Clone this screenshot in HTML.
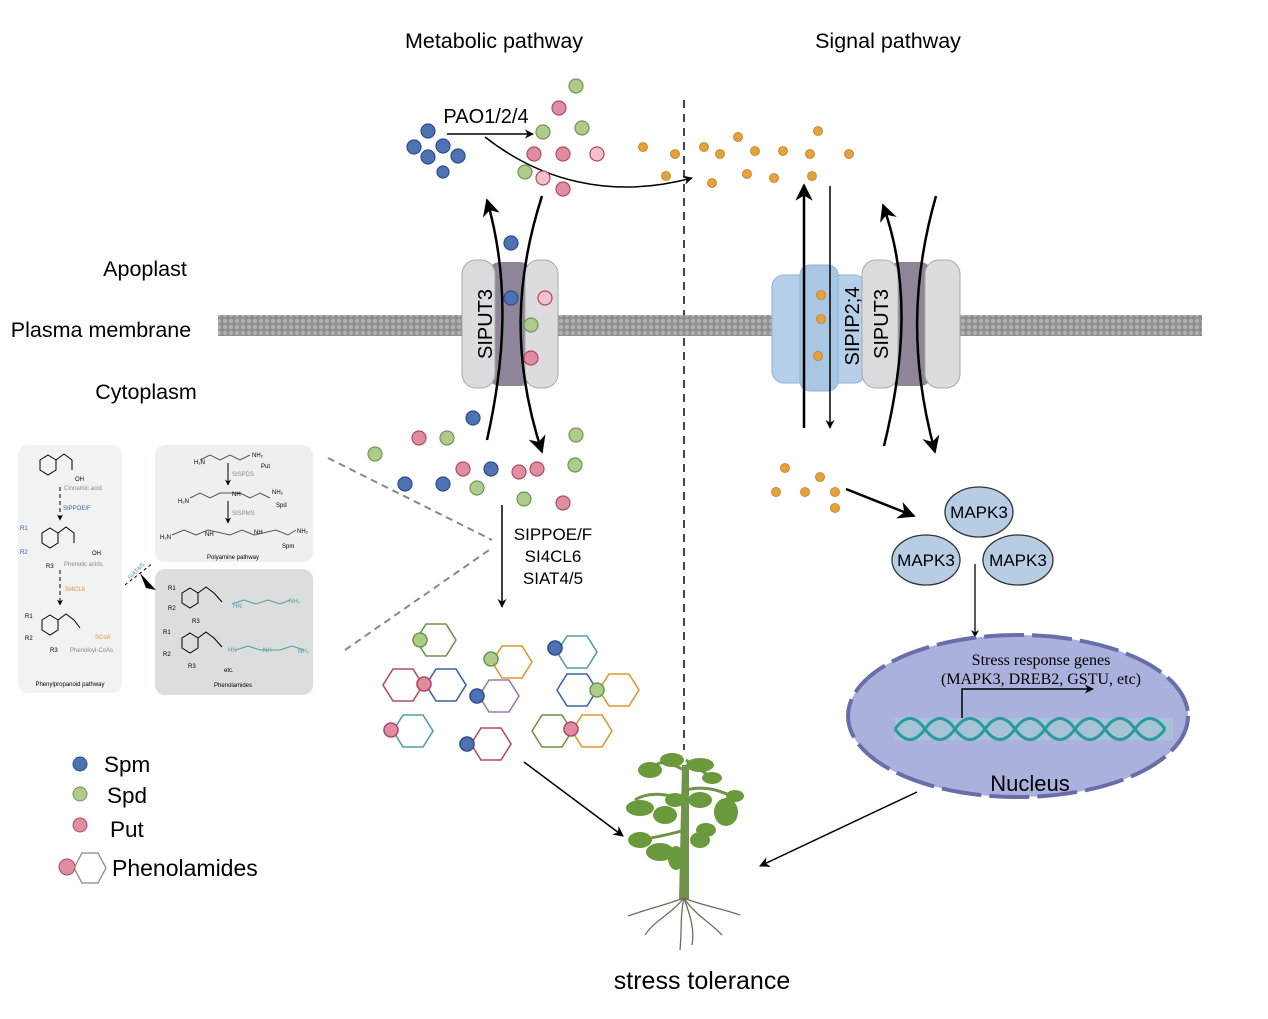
<!DOCTYPE html>
<html><head><meta charset="utf-8"><style>
html,body{margin:0;padding:0;background:#fff;}
svg{display:block;font-family:"Liberation Sans",sans-serif;}
</style></head><body>
<svg width="1268" height="1019" viewBox="0 0 1268 1019" xmlns="http://www.w3.org/2000/svg">
<defs>
<marker id="ah" viewBox="0 0 10 10" refX="9" refY="5" markerWidth="7" markerHeight="7" orient="auto"><path d="M0,0 L10,5 L0,10 L3,5 z" fill="#000"/></marker>
<marker id="ahb" viewBox="0 0 10 10" refX="9" refY="5" markerWidth="6" markerHeight="6" orient="auto"><path d="M0,0 L10,5 L0,10 L3,5 z" fill="#000"/></marker>
<pattern id="mem" width="6" height="6" patternUnits="userSpaceOnUse"><rect width="6" height="6" fill="#8e8e8e"/><circle cx="3" cy="3" r="2.2" fill="#b0b0b0"/></pattern>
<g id="hx"><polygon points="-20,0 -10,-16 10,-16 20,0 10,16 -10,16" fill="none" stroke-width="1.6"/></g>
</defs>

<text x="494" y="48" font-size="21.5" text-anchor="middle">Metabolic pathway</text>
<text x="888" y="48" font-size="21.5" text-anchor="middle">Signal pathway</text>
<text x="145" y="276" font-size="21.5" text-anchor="middle">Apoplast</text>
<text x="101" y="337" font-size="21.5" text-anchor="middle">Plasma membrane</text>
<text x="146" y="399" font-size="21.5" text-anchor="middle">Cytoplasm</text>

<line x1="684" y1="100" x2="684" y2="750" stroke="#444" stroke-width="2" stroke-dasharray="8,6"/>

<rect x="218" y="315" width="984" height="21" fill="url(#mem)"/>

<rect x="488" y="262" width="44" height="124" rx="12" fill="#8e8698"/>
<rect x="462" y="260" width="33" height="128" rx="14" fill="#dcdcde" stroke="#aaa"/>
<rect x="525" y="260" width="33" height="128" rx="14" fill="#dcdcde" stroke="#aaa"/>
<text transform="translate(492,324) rotate(-90)" font-size="20" text-anchor="middle">SIPUT3</text>

<rect x="772" y="275" width="94" height="108" rx="12" fill="#b6cfe8" stroke="#8fb0d6"/>
<rect x="800" y="265" width="38" height="126" rx="10" fill="#a9c6e4" stroke="#8fb0d6"/>
<text transform="translate(859,326) rotate(-90)" font-size="20" text-anchor="middle">SIPIP2;4</text>
<rect x="888" y="262" width="44" height="124" rx="12" fill="#8e8698"/>
<rect x="862" y="260" width="36" height="128" rx="14" fill="#dcdcde" stroke="#aaa"/>
<rect x="925" y="260" width="35" height="128" rx="14" fill="#dcdcde" stroke="#aaa"/>
<text transform="translate(888,324) rotate(-90)" font-size="20" text-anchor="middle">SIPUT3</text>

<path d="M487,440 C505,360 510,280 487,200" fill="none" stroke="#000" stroke-width="2.5" marker-end="url(#ah)"/>
<path d="M542,196 C515,280 512,360 542,452" fill="none" stroke="#000" stroke-width="2.5" marker-end="url(#ah)"/>
<line x1="804" y1="428" x2="804" y2="185" stroke="#000" stroke-width="2.5" marker-end="url(#ah)"/>
<line x1="830" y1="186" x2="830" y2="428" stroke="#000" stroke-width="1.5" marker-end="url(#ahb)"/>
<path d="M884,446 C905,360 910,280 883,205" fill="none" stroke="#000" stroke-width="2.5" marker-end="url(#ah)"/>
<path d="M936,196 C912,280 910,360 935,452" fill="none" stroke="#000" stroke-width="2.5" marker-end="url(#ah)"/>

<text x="486" y="123" font-size="20" text-anchor="middle">PAO1/2/4</text>
<line x1="447" y1="134" x2="533" y2="134" stroke="#000" stroke-width="1.5" marker-end="url(#ahb)"/>
<path d="M485,137 C540,180 610,200 692,178" fill="none" stroke="#000" stroke-width="1.5" marker-end="url(#ahb)"/>

<g stroke-width="1.2">
<g fill="#4e72b2" stroke="#2f4f8c">
<circle cx="428" cy="131" r="7"/><circle cx="414" cy="147" r="7"/><circle cx="428" cy="157" r="7"/><circle cx="443" cy="146" r="7"/><circle cx="458" cy="156" r="7"/><circle cx="443" cy="172" r="6"/>
<circle cx="511" cy="243" r="7"/><circle cx="511" cy="298" r="7"/>
<circle cx="473" cy="418" r="7"/><circle cx="491" cy="469" r="7"/><circle cx="405" cy="484" r="7"/><circle cx="443" cy="484" r="7"/>
</g>
<g fill="#aecb8c" stroke="#6e9950">
<circle cx="576" cy="86" r="7"/><circle cx="543" cy="132" r="7"/><circle cx="582" cy="128" r="7"/><circle cx="525" cy="172" r="7"/>
<circle cx="531" cy="325" r="7"/>
<circle cx="447" cy="438" r="7"/><circle cx="576" cy="435" r="7"/><circle cx="375" cy="454" r="7"/><circle cx="575" cy="465" r="7"/><circle cx="477" cy="488" r="7"/><circle cx="524" cy="499" r="7"/>
</g>
<g fill="#de8ea0" stroke="#b24a66">
<circle cx="559" cy="108" r="7"/><circle cx="534" cy="154" r="7"/><circle cx="563" cy="154" r="7"/><circle cx="563" cy="189" r="7"/>
<circle cx="531" cy="358" r="7"/>
<circle cx="419" cy="438" r="7"/><circle cx="463" cy="469" r="7"/><circle cx="519" cy="472" r="7"/><circle cx="537" cy="469" r="7"/><circle cx="563" cy="503" r="7"/>
</g>
<g fill="#f3c1cc" stroke="#b24a66">
<circle cx="597" cy="154" r="7"/><circle cx="543" cy="178" r="7"/><circle cx="545" cy="298" r="7"/>
</g>
</g>

<g fill="#e3a23e" stroke="#c07e20" stroke-width="0.8">
<circle cx="643" cy="147" r="4.5"/><circle cx="675" cy="154" r="4.5"/><circle cx="704" cy="147" r="4.5"/><circle cx="720" cy="154" r="4.5"/><circle cx="738" cy="137" r="4.5"/><circle cx="755" cy="151" r="4.5"/><circle cx="783" cy="151" r="4.5"/><circle cx="818" cy="131" r="4.5"/><circle cx="810" cy="154" r="4.5"/><circle cx="849" cy="154" r="4.5"/><circle cx="666" cy="176" r="4.5"/><circle cx="712" cy="183" r="4.5"/><circle cx="747" cy="174" r="4.5"/><circle cx="774" cy="178" r="4.5"/><circle cx="812" cy="176" r="4.5"/>
<circle cx="821" cy="295" r="4.5"/><circle cx="821" cy="319" r="4.5"/><circle cx="818" cy="356" r="4.5"/>
<circle cx="785" cy="468" r="4.5"/><circle cx="820" cy="477" r="4.5"/><circle cx="776" cy="492" r="4.5"/><circle cx="805" cy="492" r="4.5"/><circle cx="835" cy="492" r="4.5"/><circle cx="835" cy="508" r="4.5"/>
</g>

<line x1="502" y1="505" x2="502" y2="607" stroke="#000" stroke-width="1.5" marker-end="url(#ahb)"/>
<text font-size="17" text-anchor="middle"><tspan x="553" y="540">SIPPOE/F</tspan><tspan x="553" y="562">SI4CL6</tspan><tspan x="553" y="584">SIAT4/5</tspan></text>

<line x1="328" y1="458" x2="492" y2="540" stroke="#888" stroke-width="2" stroke-dasharray="7,5"/>
<line x1="345" y1="650" x2="492" y2="548" stroke="#888" stroke-width="2" stroke-dasharray="7,5"/>

<g stroke-width="1.6">
<use href="#hx" x="436" y="640" stroke="#6e9448"/><circle cx="420" cy="640" r="7" fill="#aecb8c" stroke="#6e9950"/>
<use href="#hx" x="512" y="662" stroke="#e0962e"/><circle cx="491" cy="659" r="7" fill="#aecb8c" stroke="#6e9950"/>
<use href="#hx" x="577" y="652" stroke="#4ea0a6"/><circle cx="555" cy="648" r="7" fill="#4e72b2" stroke="#2f4f8c"/>
<use href="#hx" x="403" y="685" stroke="#b84a66"/><use href="#hx" x="446" y="685" stroke="#3a62ae"/><circle cx="424" cy="684" r="7" fill="#de8ea0" stroke="#b24a66"/>
<use href="#hx" x="499" y="696" stroke="#9a7ab0"/><circle cx="477" cy="696" r="7" fill="#4e72b2" stroke="#2f4f8c"/>
<use href="#hx" x="577" y="690" stroke="#3a62ae"/><use href="#hx" x="619" y="690" stroke="#e0962e"/><circle cx="597" cy="690" r="7" fill="#aecb8c" stroke="#6e9950"/>
<use href="#hx" x="413" y="731" stroke="#4ea0a6"/><circle cx="391" cy="730" r="7" fill="#de8ea0" stroke="#b24a66"/>
<use href="#hx" x="491" y="744" stroke="#b84a66"/><circle cx="467" cy="744" r="7" fill="#4e72b2" stroke="#2f4f8c"/>
<use href="#hx" x="552" y="731" stroke="#6e9448"/><use href="#hx" x="592" y="731" stroke="#e0962e"/><circle cx="571" cy="729" r="7" fill="#de8ea0" stroke="#b24a66"/>
</g>

<line x1="524" y1="762" x2="623" y2="836" stroke="#000" stroke-width="1.5" marker-end="url(#ah)"/>
<line x1="917" y1="792" x2="760" y2="866" stroke="#000" stroke-width="1.5" marker-end="url(#ah)"/>

<g>
<path d="M679,900 L682,765 L689,765 L689,900 z" fill="#6e9448"/>
<g stroke="#6e9448" stroke-width="3" fill="none">
<path d="M685,800 C670,795 650,790 635,800"/><path d="M686,790 C705,785 720,790 740,800"/><path d="M684,830 C670,835 650,838 630,842"/><path d="M686,760 C700,770 710,775 715,782"/><path d="M684,770 C665,760 660,760 650,770"/>
</g>
<g fill="#6a9a3c">
<ellipse cx="650" cy="770" rx="12" ry="8"/><ellipse cx="672" cy="760" rx="12" ry="7"/><ellipse cx="700" cy="765" rx="14" ry="7"/><ellipse cx="712" cy="778" rx="10" ry="6"/>
<ellipse cx="640" cy="808" rx="14" ry="8"/><ellipse cx="665" cy="815" rx="12" ry="9"/><ellipse cx="675" cy="800" rx="10" ry="7"/><ellipse cx="700" cy="800" rx="12" ry="8"/><ellipse cx="726" cy="812" rx="12" ry="14"/><ellipse cx="735" cy="796" rx="9" ry="6"/>
<ellipse cx="640" cy="840" rx="12" ry="8"/><ellipse cx="660" cy="852" rx="14" ry="9"/><ellipse cx="676" cy="858" rx="8" ry="12"/><ellipse cx="700" cy="840" rx="10" ry="8"/><ellipse cx="706" cy="830" rx="10" ry="7"/>
</g>
<g stroke="#7a6a58" stroke-width="1.3" fill="none">
<path d="M684,898 C665,905 645,910 628,916"/><path d="M684,898 C700,905 720,908 740,915"/><path d="M684,898 C680,915 682,930 680,950"/><path d="M684,898 C670,915 655,920 645,935"/><path d="M684,898 C695,915 710,922 722,935"/><path d="M684,898 C690,915 695,930 692,945"/>
</g>
</g>
<text x="702" y="989" font-size="25" text-anchor="middle">stress tolerance</text>

<line x1="846" y1="489" x2="914" y2="516" stroke="#000" stroke-width="2.5" marker-end="url(#ah)"/>
<g fill="#b6cde4" stroke="#333" stroke-width="1.3">
<ellipse cx="979" cy="512" rx="34" ry="25"/><ellipse cx="926" cy="560" rx="34" ry="25"/><ellipse cx="1018" cy="560" rx="35" ry="25"/>
</g>
<g font-size="17" text-anchor="middle"><text x="979" y="518">MAPK3</text><text x="926" y="566">MAPK3</text><text x="1018" y="566">MAPK3</text></g>
<line x1="975" y1="564" x2="975" y2="637" stroke="#000" stroke-width="1.3" marker-end="url(#ahb)"/>

<ellipse cx="1018" cy="716" rx="170" ry="81" fill="#aab1dc" stroke="#6a6ea8" stroke-width="4" stroke-dasharray="40,8"/>
<rect x="895" y="718" width="278" height="22" fill="#a6d4d4" opacity="0.5"/>
<path d="M895,729 C905,715 915,715 925,729 S945,743 955,729 S975,715 985,729 S1005,743 1015,729 S1035,715 1045,729 S1065,743 1075,729 S1095,715 1105,729 S1125,743 1135,729 S1155,715 1165,729" fill="none" stroke="#2a9aa0" stroke-width="3"/>
<path d="M895,729 C905,743 915,743 925,729 S945,715 955,729 S975,743 985,729 S1005,715 1015,729 S1035,743 1045,729 S1065,715 1075,729 S1095,743 1105,729 S1125,715 1135,729 S1155,743 1165,729" fill="none" stroke="#2a9aa0" stroke-width="3"/>
<text x="1041" y="665" font-size="16" font-family="Liberation Serif,serif" text-anchor="middle">Stress response genes</text>
<text x="1041" y="684" font-size="16" font-family="Liberation Serif,serif" text-anchor="middle">(MAPK3, DREB2, GSTU, etc)</text>
<path d="M962,718 L962,689 L1093,689" fill="none" stroke="#000" stroke-width="1.5" marker-end="url(#ahb)"/>
<text x="1030" y="791" font-size="22" text-anchor="middle">Nucleus</text>

<circle cx="80" cy="764" r="7" fill="#4e72b2" stroke="#2f4f8c"/><text x="104" y="772" font-size="22.5">Spm</text>
<circle cx="80" cy="794" r="7" fill="#aecb8c" stroke="#6e9950"/><text x="107" y="803" font-size="22.5">Spd</text>
<circle cx="80" cy="825" r="7" fill="#de8ea0" stroke="#b24a66"/><text x="110" y="837" font-size="22.5">Put</text>
<polygon points="74,868 82,853 98,853 106,868 98,883 82,883" fill="none" stroke="#888" stroke-width="1.3"/>
<circle cx="67" cy="867" r="8" fill="#de8ea0" stroke="#b24a66"/><text x="112" y="876" font-size="23">Phenolamides</text>

<rect x="18" y="445" width="104" height="248" rx="10" fill="#f1f2f2"/>
<rect x="155" y="445" width="158" height="117" rx="10" fill="#eeefef"/>
<rect x="155" y="569" width="158" height="126" rx="10" fill="#dcdddd"/>
<g font-size="6" fill="#000">
<polygon points="48,455 56,460 56,470 48,475 40,470 40,460" fill="none" stroke="#000"/>
<path d="M56,460 L64,454 L72,460 L72,470" fill="none" stroke="#000"/>
<text x="75" y="481">OH</text><text x="64" y="490" fill="#888">Cinnamic acid</text>
<line x1="60" y1="487" x2="60" y2="520" stroke="#000" stroke-dasharray="4,3" marker-end="url(#ahb)"/>
<text x="63" y="510" fill="#3a62ae">SIPPOE/F</text>
<polygon points="50,528 58,533 58,543 50,548 42,543 42,533" fill="none" stroke="#000"/>
<path d="M58,533 L66,527 L74,533 L74,543" fill="none" stroke="#000"/>
<text x="20" y="530" fill="#3a62ae">R1</text><text x="20" y="554" fill="#3a62ae">R2</text><text x="46" y="568">R3</text><text x="92" y="555">OH</text><text x="64" y="566" fill="#888">Phenolic acids</text>
<line x1="60" y1="570" x2="60" y2="605" stroke="#000" stroke-dasharray="4,3" marker-end="url(#ahb)"/>
<text x="65" y="591" fill="#e0962e">SI4CL6</text>
<polygon points="50,615 58,620 58,630 50,635 42,630 42,620" fill="none" stroke="#000"/>
<path d="M58,620 L66,614 L74,620 L80,628" fill="none" stroke="#000"/>
<text x="25" y="618">R1</text><text x="25" y="640">R2</text><text x="50" y="652">R3</text><text x="95" y="639" fill="#e0962e">SCoA</text><text x="70" y="652" fill="#888">Phenoloyl-CoAs</text>
<text x="70" y="686" text-anchor="middle">Phenylpropanoid pathway</text>
<path d="M200,460 L210,455 L220,460 L230,455 L240,460 L250,455" fill="none" stroke="#555"/><text x="194" y="464">H₂N</text><text x="252" y="457">NH₂</text><text x="261" y="468">Put</text>
<line x1="228" y1="463" x2="228" y2="485" stroke="#000" marker-end="url(#ahb)"/><text x="232" y="476" fill="#888">SISPDS</text>
<path d="M190,498 L200,493 L210,498 L220,493 L240,493 L250,498 L260,493 L270,498" fill="none" stroke="#555"/><text x="178" y="503">H₂N</text><text x="232" y="496">NH</text><text x="272" y="494">NH₂</text><text x="276" y="507">Spd</text>
<line x1="228" y1="501" x2="228" y2="523" stroke="#000" marker-end="url(#ahb)"/><text x="232" y="515" fill="#888">SISPMS</text>
<path d="M172,535 L184,530 L196,535 L208,530 L230,535 L242,530 L254,535 L276,530 L288,535 L296,530" fill="none" stroke="#555"/><text x="160" y="539">H₂N</text><text x="205" y="536">NH</text><text x="254" y="534">NH</text><text x="297" y="533">NH₂</text><text x="282" y="548">Spm</text>
<text x="233" y="559" text-anchor="middle">Polyamine pathway</text>
<polygon points="190,588 198,593 198,603 190,608 182,603 182,593" fill="none" stroke="#000"/>
<path d="M198,593 L206,587 L214,593 L222,602" fill="none" stroke="#000"/>
<path d="M232,604 L244,600 L256,604 L268,600 L280,604 L290,600" fill="none" stroke="#4ea0a6"/>
<text x="168" y="590">R1</text><text x="168" y="610">R2</text><text x="192" y="623">R3</text><text x="233" y="608" fill="#4ea0a6">HN</text><text x="289" y="603" fill="#4ea0a6">NH₂</text>
<polygon points="190,633 198,638 198,648 190,653 182,648 182,638" fill="none" stroke="#000"/>
<path d="M198,638 L206,632 L214,638 L222,647" fill="none" stroke="#000"/>
<path d="M236,650 L248,646 L260,650 L280,650 L292,646 L304,650" fill="none" stroke="#4ea0a6"/>
<text x="163" y="634">R1</text><text x="163" y="656">R2</text><text x="188" y="668">R3</text><text x="228" y="652" fill="#4ea0a6">HN</text><text x="263" y="652" fill="#4ea0a6">NH</text><text x="298" y="653" fill="#4ea0a6">NH₂</text><text x="224" y="672">etc.</text>
<text x="233" y="687" text-anchor="middle">Phenolamides</text>
<text transform="translate(130,580) rotate(-45)" fill="#4ea0a6">SIAT4/5</text>
</g>
<line x1="125" y1="585" x2="153" y2="563" stroke="#000" stroke-dasharray="3,3"/>
<path d="M140,573 L156,590 L146,588 z" fill="#000"/>
</svg>
</body></html>
